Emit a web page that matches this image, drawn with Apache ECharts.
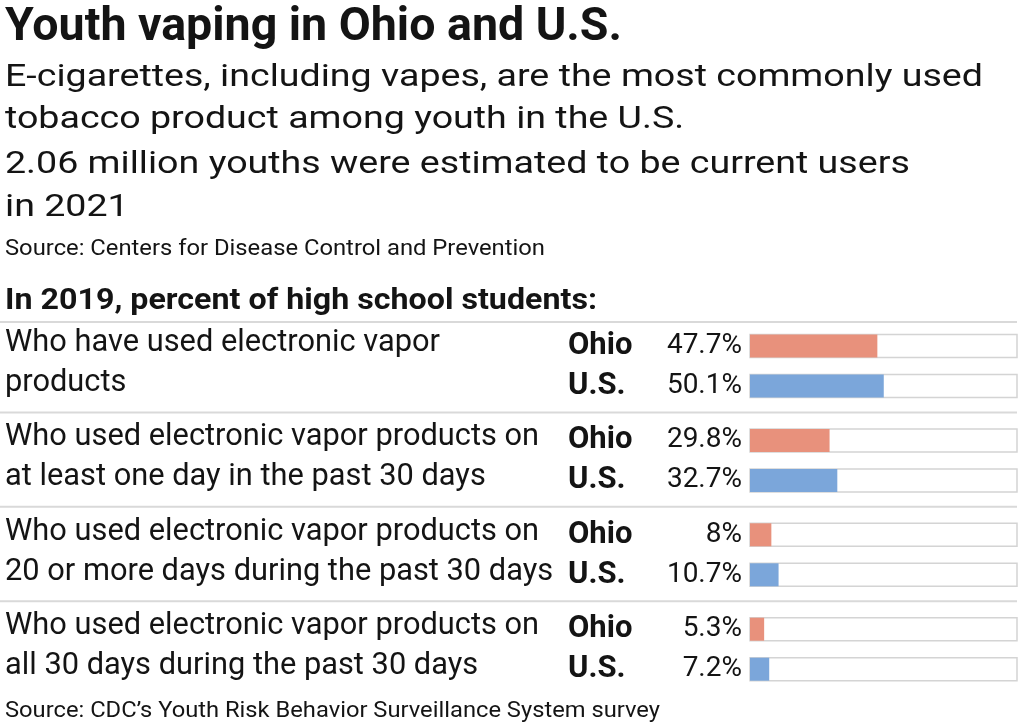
<!DOCTYPE html>
<html>
<head>
<meta charset="utf-8">
<script src="https://cdn.jsdelivr.net/npm/echarts@6/dist/echarts.min.js"></script>
<style>
html,body{margin:0;padding:0;background:#fff;}
#chart{width:1022px;height:727px;}
</style>
</head>
<body>
<div id="chart"></div>
<script>
const titleText = "Youth vaping in Ohio and U.S.";
const subtitleLines = [
  "E-cigarettes, including vapes, are the most commonly used",
  "tobacco product among youth in the U.S.",
  "2.06 million youths were estimated to be current users",
  "in 2021"
];
const sourceTop = "Source: Centers for Disease Control and Prevention";
const heading = "In 2019, percent of high school students:";
const footer = "Source: CDC\u2019s Youth Risk Behavior Surveillance System survey";
const questions = [
  ["Who have used electronic vapor", "products"],
  ["Who used electronic vapor products on", "at least one day in the past 30 days"],
  ["Who used electronic vapor products on", "20 or more days during the past 30 days"],
  ["Who used electronic vapor products on", "all 30 days during the past 30 days"]
];
const regions = ["Ohio", "U.S."];
const ohioValues = [47.7, 29.8, 8, 5.3];
const usValues = [50.1, 32.7, 10.7, 7.2];

const colors = ["#E8917C", "#7BA6DA"];
const FONT = "Roboto";

// text width measuring, used to squeeze a font horizontally to the reference's condensed face
const ctx = document.createElement('canvas').getContext('2d');
function fitScale(text, font, target) {
  ctx.font = font;
  return target / ctx.measureText(text).width;
}
function textEl(text, x, y, font, scaleX) {
  return {type: 'text', x: x, y: y, scaleX: scaleX, scaleY: 1,
    style: {text: text, font: font, fill: '#141414', textVerticalAlign: 'middle', textAlign: 'left'}};
}

const gridTop0 = 326, gridStep = 94.4, gridH = 80;
const grids = [], xAxes = [], yAxes = [], series = [], graphics = [];

const qFont = '31px "' + FONT + '"';
const qScale = fitScale(questions[0][0], qFont, 435);

questions.forEach((q, i) => {
  const top = gridTop0 + i * gridStep;
  const vals = [ohioValues[i], usValues[i]];
  grids.push({left: 750, right: 5, top: top, height: gridH, containLabel: false});
  xAxes.push({gridIndex: i, type: 'value', min: 0, max: 100, show: false});
  yAxes.push({
    gridIndex: i, type: 'category', data: regions, inverse: true,
    axisLine: {show: false}, axisTick: {show: false}, splitLine: {show: false},
    axisLabel: {
      margin: 8,
      formatter: (v, idx) => '{n|' + v + '}{v|' + vals[idx] + '%}',
      rich: {
        n: {fontFamily: FONT, fontWeight: 'bold', fontSize: 31, color: '#141414', width: 74, align: 'left'},
        v: {fontFamily: FONT, fontSize: 28, color: '#141414', width: 100, align: 'right'}
      }
    }
  });
  series.push({
    type: 'bar', xAxisIndex: i, yAxisIndex: i, barWidth: 23,
    data: vals.map((v, k) => ({value: v, itemStyle: {color: colors[k]}})),
    showBackground: true,
    backgroundStyle: {color: '#fff', borderColor: '#d4d4d4', borderWidth: 1.5},
    animation: false
  });
  q.forEach((line, k) => {
    graphics.push(textEl(line, 5, top + 17 + k * 40, qFont, qScale));
  });
  if (i > 0) {
    graphics.push({type: 'rect', shape: {x: 0, y: top - 9, width: 1017, height: 2}, style: {fill: '#d9d9d9'}});
  }
});
graphics.push({type: 'rect', shape: {x: 0, y: 321, width: 1017, height: 2}, style: {fill: '#d9d9d9'}});

const tFont = 'bold 46px "' + FONT + '"';
graphics.push(textEl(titleText, 5, 28, tFont, fitScale(titleText, tFont, 617)));
const sFont = '32px "' + FONT + '"';
const sScale = fitScale(subtitleLines[0], sFont, 978);
[78, 120, 165, 208].forEach((y, k) => graphics.push(textEl(subtitleLines[k], 5, y, sFont, sScale)));
const srcFont = '22px "' + FONT + '"';
graphics.push(textEl(sourceTop, 5, 249, srcFont, fitScale(sourceTop, srcFont, 540)));
const hFont = 'bold 29px "' + FONT + '"';
graphics.push(textEl(heading, 5, 302, hFont, fitScale(heading, hFont, 592)));
graphics.push(textEl(footer, 5, 711, srcFont, fitScale(footer, srcFont, 655)));

const chart = echarts.init(document.getElementById('chart'), null, {renderer: 'canvas'});
chart.setOption({
  animation: false,
  grid: grids, xAxis: xAxes, yAxis: yAxes, series: series,
  graphic: graphics
});
</script>
</body>
</html>
